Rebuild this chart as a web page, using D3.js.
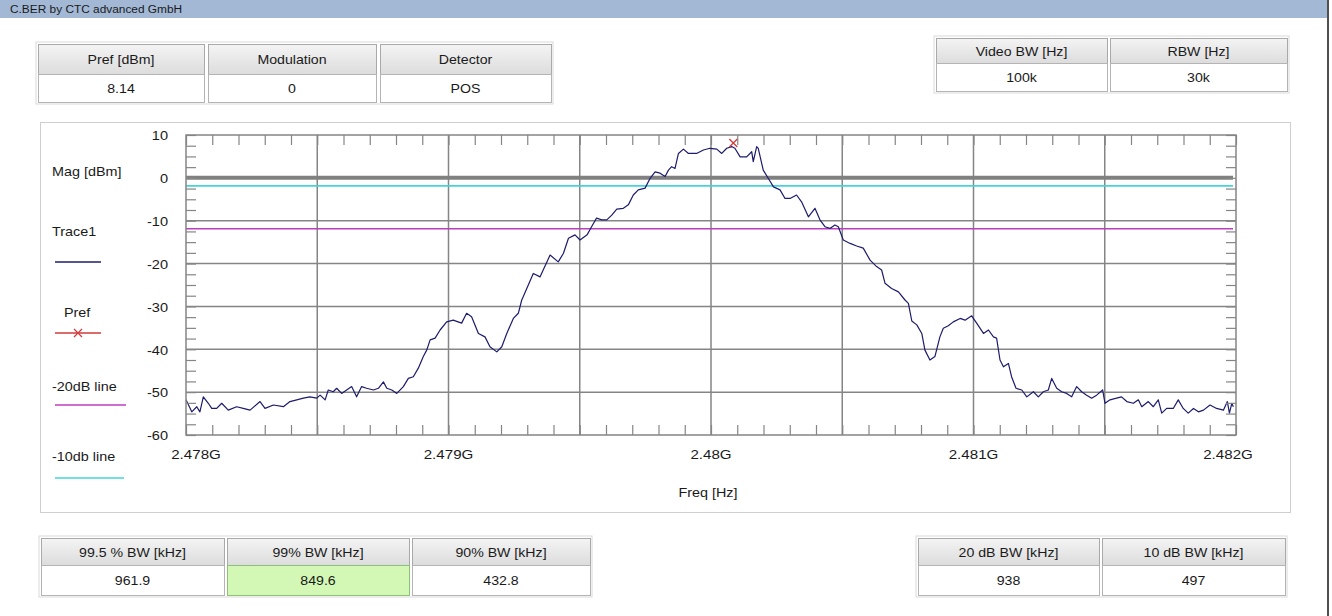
<!DOCTYPE html>
<html><head><meta charset="utf-8">
<script src="https://cdn.jsdelivr.net/npm/d3@7"></script>
<style>
html,body{margin:0;padding:0;background:#fff;}
svg{display:block;font-family:"Liberation Sans",Arial,sans-serif;}
</style></head><body>
<svg id="c" width="1332" height="616"></svg>
<script>
// ---------- data ----------
const title = "C.BER by CTC advanced GmbH";
const topLeftHeaders = ["Pref [dBm]", "Modulation", "Detector"];
const topLeftValues = ["8.14", "0", "POS"];
const topRightHeaders = ["Video BW [Hz]", "RBW [Hz]"];
const topRightValues = ["100k", "30k"];
const bottomLeftHeaders = ["99.5 % BW [kHz]", "99% BW [kHz]", "90% BW [kHz]"];
const bottomLeftValues = ["961.9", "849.6", "432.8"];
const bottomRightHeaders = ["20 dB BW [kHz]", "10 dB BW [kHz]"];
const bottomRightValues = ["938", "497"];
const xTickValues = [2478, 2479, 2480, 2481, 2482];          // MHz
const xTickLabels = ["2.478G", "2.479G", "2.48G", "2.481G", "2.482G"];
const yTickValues = [10, 0, -10, -20, -30, -40, -50, -60];
const yAxisLabel = "Mag [dBm]";
const xAxisLabel = "Freq [Hz]";
const legendLabels = ["Trace1", "Pref", "-20dB line", "-10db line"];
const prefLevel = 8.14;
const prefFreq = 2480.085;
const line20dB = -11.86;
const line10dB = -1.86;
const zeroLine = 0;
const traceFreq = [
2478.000,2478.022,2478.041,2478.053,2478.066,2478.085,2478.098,2478.117,2478.136,2478.161,
2478.193,2478.218,2478.244,2478.282,2478.301,2478.333,2478.371,2478.396,2478.422,2478.447,
2478.472,2478.498,2478.511,2478.530,2478.542,2478.561,2478.574,2478.593,2478.612,2478.631,
2478.650,2478.669,2478.688,2478.714,2478.733,2478.752,2478.765,2478.784,2478.803,2478.828,
2478.847,2478.866,2478.885,2478.904,2478.917,2478.930,2478.949,2478.968,2478.993,2479.018,
2479.050,2479.069,2479.088,2479.114,2479.139,2479.158,2479.184,2479.203,2479.222,2479.247,
2479.266,2479.279,2479.285,2479.323,2479.349,2479.387,2479.418,2479.438,2479.457,2479.482,
2479.501,2479.528,2479.545,2479.564,2479.584,2479.603,2479.622,2479.641,2479.666,2479.685,
2479.704,2479.723,2479.749,2479.768,2479.787,2479.806,2479.825,2479.838,2479.850,2479.863,
2479.876,2479.895,2479.914,2479.945,2479.971,2479.996,2480.022,2480.041,2480.060,2480.079,
2480.091,2480.111,2480.136,2480.155,2480.161,2480.174,2480.180,2480.199,2480.218,2480.238,
2480.263,2480.282,2480.301,2480.326,2480.345,2480.371,2480.396,2480.415,2480.434,2480.453,
2480.472,2480.485,2480.504,2480.530,2480.555,2480.580,2480.606,2480.631,2480.650,2480.663,
2480.688,2480.714,2480.739,2480.752,2480.765,2480.784,2480.803,2480.815,2480.834,2480.853,
2480.872,2480.885,2480.904,2480.923,2480.949,2480.968,2480.993,2481.012,2481.038,2481.057,
2481.076,2481.088,2481.101,2481.114,2481.133,2481.145,2481.162,2481.184,2481.203,2481.228,
2481.247,2481.266,2481.285,2481.298,2481.317,2481.336,2481.355,2481.374,2481.393,2481.412,
2481.431,2481.450,2481.469,2481.492,2481.501,2481.520,2481.545,2481.564,2481.584,2481.609,
2481.628,2481.641,2481.666,2481.685,2481.704,2481.717,2481.736,2481.761,2481.780,2481.799,
2481.818,2481.838,2481.857,2481.876,2481.901,2481.926,2481.952,2481.967,2481.975,2481.984,
2481.990];
const traceMag = [
-51.8,-54.6,-53.4,-54.6,-51.1,-52.6,-53.8,-53.8,-52.6,-54.2,
-53.4,-53.8,-54.2,-52.2,-53.8,-53.0,-53.4,-52.2,-51.8,-51.4,
-51.1,-51.4,-50.7,-51.8,-49.5,-49.9,-49.1,-50.3,-49.5,-48.7,
-51.1,-48.7,-49.1,-49.5,-49.1,-47.6,-49.1,-49.5,-50.3,-48.7,
-46.8,-46.4,-44.4,-41.7,-40.2,-37.8,-37.4,-35.5,-33.6,-33.2,
-33.9,-31.6,-32.4,-36.3,-37.1,-39.4,-40.6,-39.4,-36.3,-32.8,
-31.6,-28.5,-27.7,-22.3,-23.1,-18.0,-19.6,-17.6,-14.1,-13.3,
-14.5,-13.3,-11.4,-9.4,-9.8,-9.8,-8.7,-7.3,-7.1,-6.3,
-4.0,-2.8,-2.4,-0.1,1.4,1.1,0.3,1.8,2.6,2.2,
5.7,6.7,5.7,5.7,6.5,6.9,6.7,5.7,6.9,7.3,
6.9,4.9,4.9,6.1,3.8,7.3,6.9,1.8,-0.1,-2.1,
-2.8,-4.8,-4.8,-4.0,-5.6,-9.1,-7.1,-9.8,-11.4,-11.8,
-11.0,-11.4,-14.5,-15.3,-15.9,-16.4,-19.2,-20.7,-21.5,-24.6,
-25.8,-26.6,-28.5,-29.3,-33.4,-34.3,-36.3,-40.2,-42.5,-41.7,
-37.1,-35.1,-34.5,-33.6,-32.8,-33.2,-32.2,-33.9,-36.3,-35.5,
-37.1,-37.4,-42.5,-44.1,-43.3,-46.4,-49.1,-49.5,-51.1,-49.9,
-51.1,-49.9,-49.5,-46.8,-49.1,-49.9,-50.3,-51.1,-48.7,-49.9,
-50.7,-51.4,-50.7,-49.5,-52.6,-51.8,-51.4,-51.1,-52.2,-52.6,
-51.8,-53.4,-52.2,-53.4,-51.8,-54.9,-53.8,-53.8,-51.8,-53.8,
-54.9,-53.8,-54.6,-54.2,-53.0,-53.8,-54.2,-52.2,-54.9,-52.6,
-53.4];

// ---------- drawing ----------
const svg = d3.select("#c");
const SX = 1.18;
const C = { grid: "#858585", trace: "#1c1c6e", pref: "#d03a3a", l20: "#bb3fbf", l10: "#45d3dc", text: "#1a1a1a" };

function label(g, x, y, s, o = {}) {
  return g.append("text")
    .attr("transform", `translate(${x},${y}) scale(${o.sx || SX},1)`)
    .attr("text-anchor", o.anchor || "middle")
    .attr("dominant-baseline", "central")
    .attr("font-size", o.size || 12)
    .attr("fill", o.fill || C.text)
    .text(s);
}

const defs = svg.append("defs");
const grad = defs.append("linearGradient").attr("id", "hdr").attr("x1", 0).attr("y1", 0).attr("x2", 0).attr("y2", 1);
grad.append("stop").attr("offset", "0%").attr("stop-color", "#f4f4f4");
grad.append("stop").attr("offset", "100%").attr("stop-color", "#dcdcdc");

// title bar
svg.append("rect").attr("x", 0).attr("y", 0).attr("width", 1327).attr("height", 18).attr("fill", "#a2b8d5");
label(svg, 10, 9, title, { anchor: "start", size: 11, sx: 1.08 });
svg.append("line").attr("x1", 1328).attr("x2", 1328).attr("y1", 0).attr("y2", 616).attr("stroke", "#505050").attr("stroke-width", 2);

// tables
function table(cols, yTop, yMid, yBot, headers, values, hi) {
  const g = svg.append("g");
  g.append("rect").attr("x", cols[0][0] - 2).attr("y", yTop - 2)
    .attr("width", cols[cols.length - 1][1] - cols[0][0] + 4).attr("height", yBot - yTop + 4)
    .attr("fill", "#fff").attr("stroke", "#dadada");
  cols.forEach((c, i) => {
    g.append("rect").attr("x", c[0] + 0.5).attr("y", yTop + 0.5).attr("width", c[1] - c[0]).attr("height", yMid - yTop)
      .attr("fill", "url(#hdr)").attr("stroke", "#a9a9a9");
    g.append("rect").attr("x", c[0] + 0.5).attr("y", yMid + 0.5).attr("width", c[1] - c[0]).attr("height", yBot - yMid)
      .attr("fill", i === hi ? "#d3f7b5" : "#fff").attr("stroke", i === hi ? "#8fc07a" : "#b4b4b4");
    label(g, (c[0] + c[1]) / 2, (yTop + yMid) / 2 + 1, headers[i]);
    label(g, (c[0] + c[1]) / 2, (yMid + yBot) / 2 + 1, values[i]);
  });
}
table([[38, 204], [208, 376], [380, 551]], 44, 74, 102, topLeftHeaders, topLeftValues, -1);
table([[936, 1107], [1110, 1287]], 38, 63, 91, topRightHeaders, topRightValues, -1);
table([[41, 224], [227, 409], [412, 590]], 538, 565, 595, bottomLeftHeaders, bottomLeftValues, 1);
table([[918, 1099], [1102, 1285]], 538, 565, 595, bottomRightHeaders, bottomRightValues, -1);

// plot panel
svg.append("rect").attr("x", 40.5).attr("y", 122.5).attr("width", 1250).attr("height", 390)
  .attr("fill", "#fff").attr("stroke", "#cfcfcf");

const x = d3.scaleLinear().domain([2478, 2482]).range([186, 1236]);
const y = d3.scaleLinear().domain([-60, 10]).range([435, 135]);
const plot = svg.append("g");

// gridlines
const xGrid = d3.range(2478.5, 2482, 0.5);
const yGrid = [-50, -40, -30, -20, -10];
plot.append("g").selectAll("line").data(xGrid).join("line")
  .attr("x1", d => x(d)).attr("x2", d => x(d)).attr("y1", y(10)).attr("y2", y(-60))
  .attr("stroke", C.grid).attr("stroke-width", 1.5);
plot.append("g").selectAll("line").data(yGrid).join("line")
  .attr("x1", x(2478)).attr("x2", x(2482)).attr("y1", d => y(d)).attr("y2", d => y(d))
  .attr("stroke", C.grid).attr("stroke-width", 1.5);
plot.append("line").attr("x1", x(2478)).attr("x2", x(2482) - 3).attr("y1", y(zeroLine)).attr("y2", y(zeroLine))
  .attr("stroke", "#808080").attr("stroke-width", 4);

// reference lines
plot.append("line").attr("x1", x(2478)).attr("x2", x(2482) - 3).attr("y1", y(line10dB)).attr("y2", y(line10dB))
  .attr("stroke", C.l10).attr("stroke-width", 1.6);
plot.append("line").attr("x1", x(2478)).attr("x2", x(2482) - 3).attr("y1", y(line20dB)).attr("y2", y(line20dB))
  .attr("stroke", C.l20).attr("stroke-width", 1.6);

// trace
const pts = traceFreq.map((f, i) => [f, traceMag[i]]);
plot.append("path").datum(pts)
  .attr("d", d3.line().x(d => x(d[0])).y(d => y(d[1])))
  .attr("fill", "none").attr("stroke", C.trace).attr("stroke-width", 1.2).attr("stroke-linejoin", "round");

// pref marker
const px = x(prefFreq), py = y(prefLevel);
plot.append("path").attr("d", `M${px - 4},${py - 4}L${px + 4},${py + 4}M${px - 4},${py + 4}L${px + 4},${py - 4}`)
  .attr("stroke", C.pref).attr("stroke-width", 1.3).attr("fill", "none");

// frame
plot.append("rect").attr("x", x(2478)).attr("y", y(10)).attr("width", x(2482) - x(2478)).attr("height", y(-60) - y(10))
  .attr("fill", "none").attr("stroke", C.grid).attr("stroke-width", 1.5);

// minor ticks via d3 axes (inward)
const xMinor = d3.range(2478, 2482.0001, 0.1);
const yMinor = d3.range(-60, 10.0001, 2.5);
function styleAxis(g) { g.select(".domain").remove(); g.selectAll("text").remove(); g.selectAll("line").attr("stroke", C.grid).attr("stroke-width", 1.2); }
plot.append("g").attr("transform", `translate(0,${y(-60)})`).call(d3.axisBottom(x).tickValues(xMinor).tickSize(-10)).call(styleAxis);
plot.append("g").attr("transform", `translate(0,${y(10)})`).call(d3.axisTop(x).tickValues(xMinor).tickSize(-10)).call(styleAxis);
plot.append("g").attr("transform", `translate(${x(2478)},0)`).call(d3.axisLeft(y).tickValues(yMinor).tickSize(-10)).call(styleAxis);
plot.append("g").attr("transform", `translate(${x(2482)},0)`).call(d3.axisRight(y).tickValues(yMinor).tickSize(-10)).call(styleAxis);

// tick labels
const lab = svg.append("g");
xTickValues.forEach((v, i) => {
  const dx = i === 0 ? 10 : (i === xTickValues.length - 1 ? -8 : 0);
  label(lab, x(v) + dx, 454, xTickLabels[i], { size: 13.5, sx: 1.12 });
});
yTickValues.forEach(v => label(lab, 168, y(v) + 1, String(v), { size: 13, anchor: "end", sx: 1.12 }));
label(lab, 708, 493, xAxisLabel, { size: 12.5, sx: 1.15 });

// legend
const lg = svg.append("g");
label(lg, 52, 172, yAxisLabel, { anchor: "start", size: 12.5, sx: 1.15 });
label(lg, 52, 232, legendLabels[0], { anchor: "start", size: 12.5, sx: 1.15 });
lg.append("line").attr("x1", 55).attr("x2", 101).attr("y1", 262).attr("y2", 262).attr("stroke", C.trace).attr("stroke-width", 1.3);
label(lg, 64, 313, legendLabels[1], { anchor: "start", size: 12.5, sx: 1.15 });
lg.append("line").attr("x1", 55).attr("x2", 101).attr("y1", 333).attr("y2", 333).attr("stroke", C.pref).attr("stroke-width", 1.3);
lg.append("path").attr("d", "M74,329L82,337M74,337L82,329").attr("stroke", C.pref).attr("stroke-width", 1.2);
label(lg, 52, 387, legendLabels[2], { anchor: "start", size: 12.5, sx: 1.15 });
lg.append("line").attr("x1", 55).attr("x2", 126).attr("y1", 405).attr("y2", 405).attr("stroke", C.l20).attr("stroke-width", 1.6);
label(lg, 52, 457, legendLabels[3], { anchor: "start", size: 12.5, sx: 1.15 });
lg.append("line").attr("x1", 55).attr("x2", 124).attr("y1", 478).attr("y2", 478).attr("stroke", C.l10).attr("stroke-width", 1.6);
</script>
</body></html>
